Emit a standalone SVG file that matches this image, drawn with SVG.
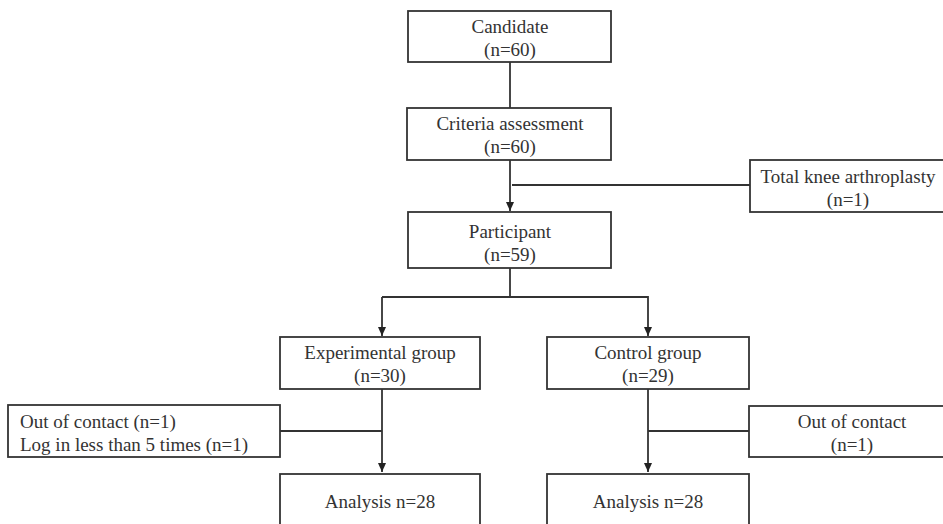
<svg xmlns="http://www.w3.org/2000/svg" width="943" height="524" viewBox="0 0 943 524">
<defs>
<marker id="arr" markerWidth="10" markerHeight="10" refX="9" refY="5" orient="auto" markerUnits="userSpaceOnUse">
<path d="M0,1 L9,5 L0,9 Z" fill="#222"/>
</marker>
<style>
.box{fill:#fff;stroke:#333;stroke-width:1.8}
.t{font-family:"Liberation Serif","Times New Roman",serif;font-size:19px;fill:#333;text-anchor:middle}
.tl{font-family:"Liberation Serif","Times New Roman",serif;font-size:19px;fill:#333}
.ln{fill:none;stroke:#333;stroke-width:1.8}
</style>
</defs>
<rect width="943" height="524" fill="#fff"/>
<g id="connectors">
<line class="ln" x1="510" y1="62" x2="510" y2="108"/>
<line class="ln" x1="510" y1="160" x2="510" y2="211" marker-end="url(#arr)"/>
<line class="ln" x1="512" y1="185" x2="750" y2="185"/>
<polyline class="ln" points="510,268 510,297"/>
<polyline class="ln" points="382,297 648,297 648,336" marker-end="url(#arr)"/>
<line class="ln" x1="382" y1="297" x2="382" y2="336" marker-end="url(#arr)"/>
<line class="ln" x1="382" y1="389" x2="382" y2="472" marker-end="url(#arr)"/>
<line class="ln" x1="280" y1="431" x2="382" y2="431"/>
<line class="ln" x1="648" y1="389" x2="648" y2="472" marker-end="url(#arr)"/>
<line class="ln" x1="648" y1="431" x2="749" y2="431"/>
</g>
<g id="candidate">
<rect class="box" x="408" y="11" width="203" height="51"/>
<text class="t" x="510" y="33">Candidate</text>
<text class="t" x="510" y="56">(n=60)</text>
</g>
<g id="criteria">
<rect class="box" x="407" y="108" width="204" height="52"/>
<text class="t" x="510" y="130">Criteria assessment</text>
<text class="t" x="510" y="153">(n=60)</text>
</g>
<g id="tka">
<rect class="box" x="750" y="160" width="200" height="52"/>
<text class="t" x="848" y="183">Total knee arthroplasty</text>
<text class="t" x="848" y="206">(n=1)</text>
</g>
<g id="participant">
<rect class="box" x="408" y="212" width="203" height="56"/>
<text class="t" x="510" y="238">Participant</text>
<text class="t" x="510" y="261">(n=59)</text>
</g>
<g id="experimental">
<rect class="box" x="280" y="337" width="200" height="52"/>
<text class="t" x="380" y="359">Experimental group</text>
<text class="t" x="380" y="382">(n=30)</text>
</g>
<g id="control">
<rect class="box" x="547" y="337" width="202" height="52"/>
<text class="t" x="648" y="359">Control group</text>
<text class="t" x="648" y="382">(n=29)</text>
</g>
<g id="exp-excluded">
<rect class="box" x="8" y="405" width="272" height="52"/>
<text class="tl" x="20" y="428">Out of contact (n=1)</text>
<text class="tl" x="20" y="451">Log in less than 5 times (n=1)</text>
</g>
<g id="ctrl-excluded">
<rect class="box" x="749" y="406" width="200" height="51"/>
<text class="t" x="852" y="428">Out of contact</text>
<text class="t" x="852" y="451">(n=1)</text>
</g>
<g id="analysis-exp">
<rect class="box" x="280" y="474" width="200" height="56"/>
<text class="t" x="380" y="508">Analysis n=28</text>
</g>
<g id="analysis-ctrl">
<rect class="box" x="547" y="474" width="202" height="56"/>
<text class="t" x="648" y="508">Analysis n=28</text>
</g>
</svg>
